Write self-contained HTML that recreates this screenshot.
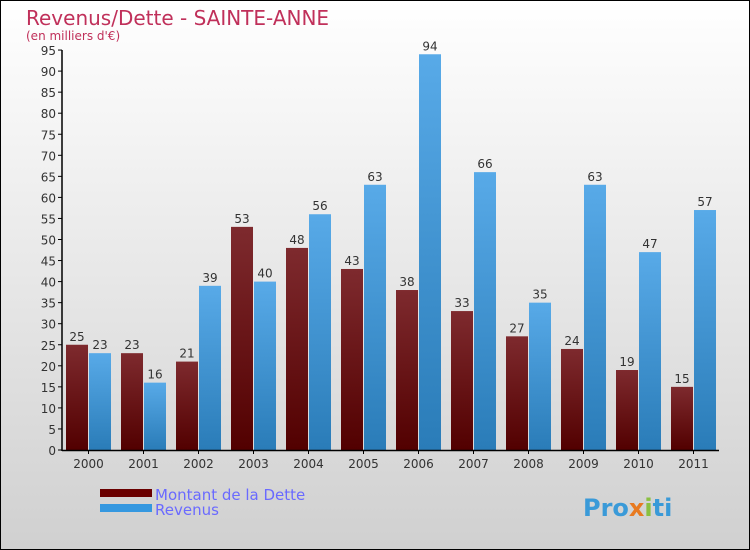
<!DOCTYPE html>
<html><head><meta charset="utf-8"><style>
body{margin:0}
#c{position:relative;width:748px;height:548px;border:1px solid #000;background:linear-gradient(#ffffff,#d0d0d0);font-family:"DejaVu Sans","Liberation Sans",sans-serif;overflow:hidden}
</style></head><body>
<div id="c">
<svg id="s" width="748" height="548">
<defs>
<linearGradient id="gd" x1="0" y1="0" x2="0" y2="1"><stop offset="0" stop-color="#7e2a2e"/><stop offset="1" stop-color="#520000"/></linearGradient>
<linearGradient id="gr" x1="0" y1="0" x2="0" y2="1"><stop offset="0" stop-color="#58aae8"/><stop offset="1" stop-color="#2a7cb8"/></linearGradient>
</defs>
<text x="25" y="24" font-size="20" fill="#c0305a">Revenus/Dette - SAINTE-ANNE</text>
<text x="25" y="39" font-size="12" fill="#c0305a">(en milliers d'€)</text>
<g id="g"></g>
<rect x="99" y="488" width="52" height="8" fill="#6a0000"/>
<rect x="99" y="503" width="52" height="8" fill="#3598e0"/>
<text x="154" y="499" font-size="15" fill="#6a6aff">Montant de la Dette</text>
<text x="154" y="514" font-size="15" fill="#6a6aff">Revenus</text>
<text x="582" y="515" font-size="24" font-weight="bold" fill="#3a9ad8">Pro<tspan fill="#e87a20">x</tspan><tspan fill="#8ac040">i</tspan>ti</text>
</svg>
</div>
<script>
const years=["2000","2001","2002","2003","2004","2005","2006","2007","2008","2009","2010","2011"];
const dette=[25,23,21,53,48,43,38,33,27,24,19,15];
const revenus=[23,16,39,40,56,63,94,66,35,63,47,57];
const ticks=[0,5,10,15,20,25,30,35,40,45,50,55,60,65,70,75,80,85,90,95];
const NS="http://www.w3.org/2000/svg";
const g=document.getElementById('g');
const y=v=>449-v*4.21;
const x0=65,step=55,bw=22;
function mk(t,a){const e=document.createElementNS(NS,t);for(const k in a)e.setAttribute(k,a[k]);g.appendChild(e);return e;}
ticks.forEach(t=>{
 const l=mk('line',{x1:57,x2:61,y1:y(t),y2:y(t),stroke:'#000'});
 
 
 const tx=mk('text',{x:55,y:y(t)+5,'text-anchor':'end','font-size':12,fill:'#333'});tx.textContent=t;
 
 
});
years.forEach((yr,i)=>{
 const bx=x0+i*step;
 [[dette[i],'url(#gd)',bx,'bar-dette'],[revenus[i],'url(#gr)',bx+bw+1,'bar-revenus']].forEach(([v,f,xx,n])=>{
  const r=mk('rect',{x:xx,y:y(v),width:bw,height:y(0)-y(v),fill:f});
  
  
  const t=mk('text',{x:xx+bw/2,y:y(v)-4,'text-anchor':'middle','font-size':12,fill:'#333'});t.textContent=v;
  
  
 });
 const cx=bx+bw+0.5;
 const tk=mk('line',{x1:cx,x2:cx,y1:449,y2:453,stroke:'#000'});
 
 
 const t=mk('text',{x:cx,y:467,'text-anchor':'middle','font-size':12,fill:'#333'});t.textContent=yr;
 
 
});
const ax=mk('line',{x1:61,x2:61,y1:y(95),y2:450,stroke:'#000','stroke-width':1.5});


const bx2=mk('line',{x1:61,x2:718,y1:449.5,y2:449.5,stroke:'#000','stroke-width':1.5});


</script>
</body></html>
